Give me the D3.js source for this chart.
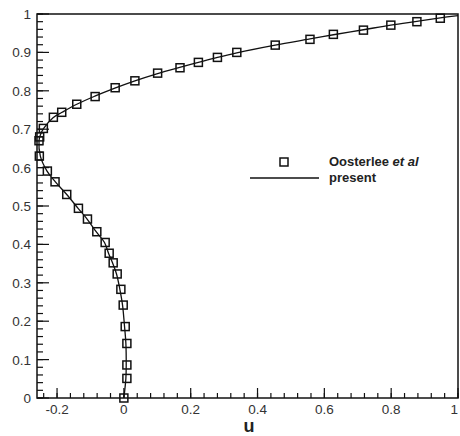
<!DOCTYPE html>
<html>
<head>
<meta charset="utf-8">
<script src="https://cdn.jsdelivr.net/npm/d3@7"></script>
<style>
body { margin: 0; background: #fff; }
text { font-family: "Liberation Sans", Arial, sans-serif; }
</style>
</head>
<body>
<svg id="plot"></svg>
<script>
var width = 460;
var height = 436;
var left = 37, top_ = 14, right = 458, bottom = 398;

// Oosterlee et al (squares)
var refU = [0.0, 0.009, 0.009, 0.009, 0.004, -0.002, -0.009, -0.020, -0.032, -0.044, -0.056, -0.081, -0.109, -0.136, -0.171, -0.206, -0.229, -0.253, -0.254, -0.252,
    -0.241, -0.211, -0.186, -0.141, -0.086, -0.026, 0.033, 0.101, 0.168, 0.223, 0.280, 0.338, 0.453, 0.557, 0.627, 0.717, 0.799, 0.877, 0.947];
var refV = [0.0, 0.051, 0.086, 0.142, 0.186, 0.242, 0.283, 0.323, 0.352, 0.377, 0.405, 0.433, 0.466, 0.494, 0.530, 0.563, 0.591, 0.630, 0.670, 0.680,
    0.702, 0.731, 0.744, 0.765, 0.785, 0.808, 0.826, 0.846, 0.860, 0.874, 0.887, 0.900, 0.919, 0.934, 0.947, 0.958, 0.971, 0.980, 0.989];

// present (line)
var lineU = [0.0, 0.006, 0.007, 0.006, 0.002, -0.004, -0.012, -0.022, -0.034, -0.046, -0.058, -0.083, -0.110, -0.137, -0.171, -0.205, -0.230, -0.250, -0.254, -0.250,
    -0.240, -0.212, -0.185, -0.141, -0.087, -0.027, 0.033, 0.101, 0.167, 0.223, 0.280, 0.338, 0.453, 0.557, 0.627, 0.717, 0.799, 0.877, 0.947, 1.0];
var lineV = [0.0, 0.051, 0.086, 0.142, 0.186, 0.242, 0.283, 0.323, 0.352, 0.377, 0.405, 0.433, 0.466, 0.494, 0.530, 0.563, 0.591, 0.630, 0.670, 0.685,
    0.702, 0.730, 0.744, 0.765, 0.786, 0.807, 0.826, 0.845, 0.861, 0.874, 0.887, 0.899, 0.919, 0.935, 0.946, 0.959, 0.971, 0.981, 0.990, 0.996];

var xTicks = [-0.2, 0, 0.2, 0.4, 0.6, 0.8, 1];
var xTickLabels = ["-0.2", "0", "0.2", "0.4", "0.6", "0.8", "1"];
var yTicks = [0, 0.1, 0.2, 0.3, 0.4, 0.5, 0.6, 0.7, 0.8, 0.9, 1];
var yTickLabels = ["0", "0.1", "0.2", "0.3", "0.4", "0.5", "0.6", "0.7", "0.8", "0.9", "1"];
var legendLabels = ["Oosterlee ", "et al", "present"];

var svg = d3.select("#plot")
    .attr("width", width)
    .attr("height", height);

var xScale = d3.scaleLinear().domain([-0.26, 1]).range([left, right]);
var yScale = d3.scaleLinear().domain([0, 1]).range([bottom, top_]);

var xMinor = d3.range(-0.24, 1.001, 0.04);
var yMinor = d3.range(0, 1.001, 0.02);

// minor ticks (inward)
svg.append("g").selectAll("line")
    .data(xMinor)
    .enter().append("line")
    .attr("x1", d => xScale(d)).attr("x2", d => xScale(d))
    .attr("y1", bottom).attr("y2", bottom - 5)
    .attr("stroke", "#111").attr("stroke-width", 1.2);
svg.append("g").selectAll("line")
    .data(yMinor)
    .enter().append("line")
    .attr("x1", left).attr("x2", left + 6)
    .attr("y1", d => yScale(d)).attr("y2", d => yScale(d))
    .attr("stroke", "#111").attr("stroke-width", 1.2);

// major ticks
svg.append("g").selectAll("line")
    .data(xTicks)
    .enter().append("line")
    .attr("x1", d => xScale(d)).attr("x2", d => xScale(d))
    .attr("y1", bottom).attr("y2", bottom - 10)
    .attr("stroke", "#111").attr("stroke-width", 1.2);
svg.append("g").selectAll("line")
    .data(yTicks)
    .enter().append("line")
    .attr("x1", left).attr("x2", left + 12)
    .attr("y1", d => yScale(d)).attr("y2", d => yScale(d))
    .attr("stroke", "#111").attr("stroke-width", 1.2);

// tick labels (last one kept inside the window)
svg.append("g").selectAll("text")
    .data(xTicks)
    .enter().append("text")
    .attr("x", d => Math.min(xScale(d), width - 1))
    .attr("y", bottom + 16)
    .attr("text-anchor", (d, i) => i == xTicks.length - 1 ? "end" : "middle")
    .attr("font-size", 13.5)
    .attr("fill", "#333")
    .text((d, i) => xTickLabels[i]);
svg.append("g").selectAll("text")
    .data(yTicks)
    .enter().append("text")
    .attr("x", left - 6)
    .attr("y", d => yScale(d) + 5)
    .attr("text-anchor", "end")
    .attr("font-size", 13.5)
    .attr("fill", "#333")
    .text((d, i) => yTickLabels[i]);

// frame
svg.append("rect")
    .attr("x", left).attr("y", top_)
    .attr("width", right - left).attr("height", bottom - top_)
    .attr("fill", "none")
    .attr("stroke", "#111")
    .attr("stroke-width", 1.5);

// axis title
svg.append("text")
    .attr("x", 249).attr("y", 432)
    .attr("text-anchor", "middle")
    .attr("font-size", 18)
    .attr("font-weight", "bold")
    .attr("fill", "#222")
    .text("u");

// present line
var line = d3.line()
    .x(d => xScale(d[0]))
    .y(d => yScale(d[1]))
    .curve(d3.curveCatmullRom);
svg.append("path")
    .datum(d3.zip(lineU, lineV))
    .attr("d", line)
    .attr("fill", "none")
    .attr("stroke", "#111")
    .attr("stroke-width", 1.3);

// reference squares
var s = 8;
svg.append("g").selectAll("rect")
    .data(d3.zip(refU, refV))
    .enter().append("rect")
    .attr("x", d => xScale(d[0]) - s / 2)
    .attr("y", d => yScale(d[1]) - s / 2)
    .attr("width", s).attr("height", s)
    .attr("fill", "none")
    .attr("stroke", "#111")
    .attr("stroke-width", 1.5);

// legend
svg.append("rect")
    .attr("x", 284 - s / 2).attr("y", 162 - s / 2)
    .attr("width", s).attr("height", s)
    .attr("fill", "none")
    .attr("stroke", "#111")
    .attr("stroke-width", 1.5);
svg.append("line")
    .attr("x1", 250).attr("x2", 319)
    .attr("y1", 178).attr("y2", 178)
    .attr("stroke", "#111")
    .attr("stroke-width", 1.3);
var t1 = svg.append("text")
    .attr("x", 329).attr("y", 166)
    .attr("font-size", 13)
    .attr("font-weight", "bold")
    .attr("fill", "#222");
t1.append("tspan").text(legendLabels[0]);
t1.append("tspan").attr("font-style", "italic").text(legendLabels[1]);
svg.append("text")
    .attr("x", 329).attr("y", 182)
    .attr("font-size", 13)
    .attr("font-weight", "bold")
    .attr("fill", "#222")
    .text(legendLabels[2]);
</script>
</body>
</html>
